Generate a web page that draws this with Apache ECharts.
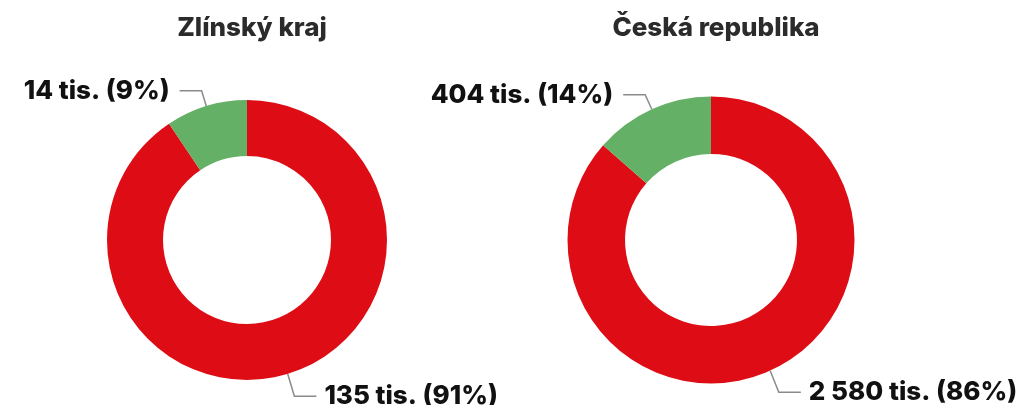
<!DOCTYPE html>
<html>
<head>
<meta charset="utf-8">
<script src="https://cdn.jsdelivr.net/npm/echarts@6/dist/echarts.min.js"></script>
<style>
  html, body { margin: 0; padding: 0; background: #fff; }
  #chart { width: 1024px; height: 405px; }
</style>
</head>
<body>
<div id="chart"></div>
<script>
const regions = ["Zlínský kraj", "Česká republika"];
const categories = ["red", "green"];
const zlinValues = [135, 14];
const czValues = [2580, 404];
const sliceColors = ["#de0d15", "#64b066"];

const fontFamily = "Inter, 'Noto Sans', sans-serif";

const fmtNum = (v) => String(v).replace(/\B(?=(\d{3})+(?!\d))/g, " ");

const chart = echarts.init(document.getElementById("chart"));

// labels near the bottom edge get pushed up by the layout; let them hang lower like the original
const bottomLabelDrop = 7;

const makePie = (values, center, radius) => ({
  type: "pie",
  center: center,
  radius: radius,
  startAngle: 90,
  clockwise: true,
  percentPrecision: 0,
  avoidLabelOverlap: false,
  silent: true,
  data: values.map((v, i) => ({
    name: categories[i],
    value: v,
    itemStyle: { color: sliceColors[i] },
  })),
  label: {
    show: true,
    position: "outside",
    formatter: (p) => fmtNum(p.value) + " tis. (" + p.percent + "%)",
    color: "#111",
    fontFamily: fontFamily,
    fontWeight: 800,
    fontSize: 26,
    distanceToLabelLine: 10,
  },
  labelLine: {
    show: true,
    length: 16,
    length2: 22,
    lineStyle: { color: "#8a8a8a", width: 1.5 },
  },
  labelLayout: (params) => {
    const pts = params.labelLinePoints;
    if (!pts || pts[0][1] < center[1]) return {};
    return {
      dy: bottomLabelDrop,
      labelLinePoints: [
        pts[0].slice(),
        [pts[1][0] + 2, pts[1][1] + bottomLabelDrop],
        [pts[2][0] + 2, pts[2][1] + bottomLabelDrop],
      ],
    };
  },
});

const option = {
  animation: false,
  title: [
    {
      text: regions[0],
      left: 247,
      top: 10,
      textAlign: "center",
      textStyle: { fontFamily: fontFamily, fontWeight: 800, fontSize: 26, color: "#2b2b2b" },
    },
    {
      text: regions[1],
      left: 711,
      top: 10,
      textAlign: "center",
      textStyle: { fontFamily: fontFamily, fontWeight: 800, fontSize: 26, color: "#2b2b2b" },
    },
  ],
  series: [
    makePie(zlinValues, [247, 240], [84, 140]),
    makePie(czValues, [711, 240], [86, 143.5]),
  ],
};

chart.setOption(option);
</script>
</body>
</html>
